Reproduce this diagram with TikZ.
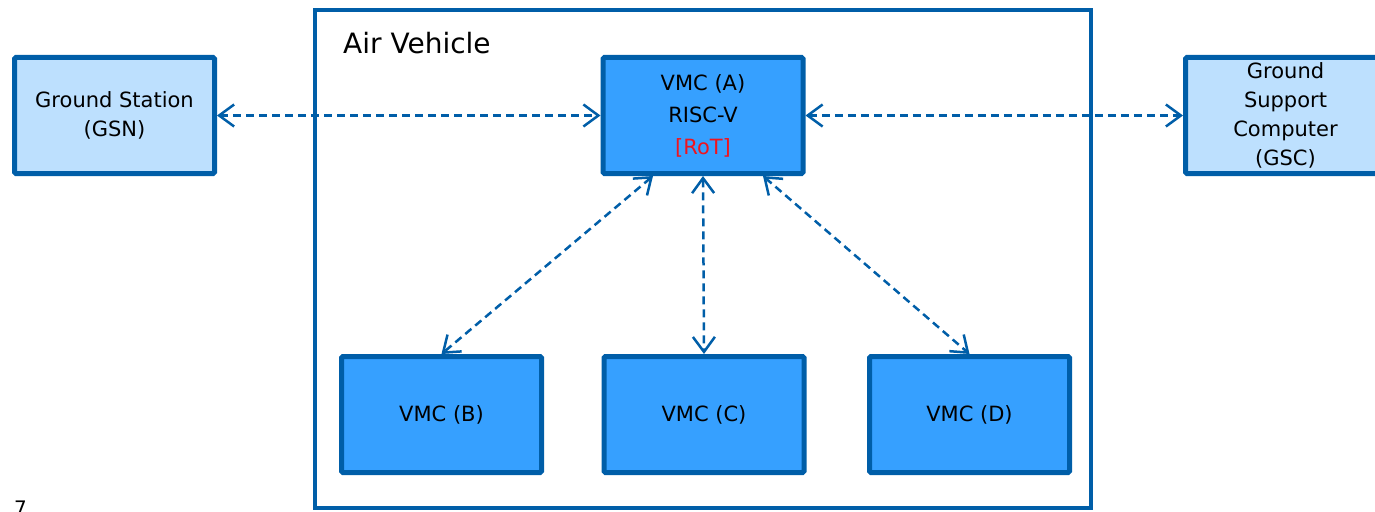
\documentclass[tikz,border=0pt]{standalone}
\usepackage{fontspec}
\setmainfont{DejaVu Sans}
\usetikzlibrary{arrows.meta}

\definecolor{avline}{RGB}{0,94,168}
\definecolor{gndfill}{RGB}{189,224,254}
\definecolor{vmcfill}{RGB}{54,160,255}
\definecolor{rotred}{RGB}{240,20,30}

\tikzset{
  gndbox/.style={draw=avline, line width=5pt, fill=gndfill, rounded corners=1.5pt,
    minimum width=200pt, minimum height=116pt, align=center,
    font=\fontsize{21}{29}\selectfont},
  vmcbox/.style={gndbox, fill=vmcfill},
  link/.style={draw=avline, line width=2.5pt, dash pattern={on 8pt off 5pt},
    {Straight Barb[length=15pt,width=22pt,line width=2.5pt]}-{Straight Barb[length=15pt,width=22pt,line width=2.5pt]}}
}

\begin{document}
\begin{tikzpicture}[x=1pt,y=1pt,yscale=-1,xscale=1]
    \useasboundingbox (0,0) rectangle (1375,511);

    %Shape: Rectangle [air vehicle]
    \draw [draw=avline, line width=4pt] (315,10) rectangle (1091,508);
    % Text Node
    \node [anchor=west, inner sep=0pt, font=\fontsize{28}{32}\selectfont] (avtitle) at (343,43) {Air Vehicle};

    %Shape: Boxes
    \node [gndbox] (gsn) at (114.5,115.5) {Ground Station\\(GSN)};
    \node [gndbox] (gsc) at (1285.5,115.5) {Ground\\Support\\Computer\\(GSC)};
    \node [vmcbox, font=\fontsize{21}{32}\selectfont] (vmca) at (703,115.5) {VMC (A)\\RISC-V\\\textcolor{rotred}{[RoT]}};
    \node [vmcbox] (vmcb) at (441.5,414.5) {VMC (B)};
    \node [vmcbox] (vmcc) at (704,414.5) {VMC (C)};
    \node [vmcbox] (vmcd) at (969.5,414.5) {VMC (D)};

    %Dashed links
    \draw [link] (gsn.east) -- (vmca.west);
    \draw [link] (vmca.east) -- (gsc.west);
    \draw [link] ([xshift=-50pt]vmca.south) -- (vmcb.north);
    \draw [link] (vmca.south) -- (vmcc.north);
    \draw [link] ([xshift=60pt]vmca.south) -- (vmcd.north);

    % Text Node (slide number, cut at the lower edge)
    \node [anchor=north west, inner sep=0pt, font=\fontsize{20}{24}\selectfont] (pageno) at (14,501) {7};
\end{tikzpicture}
\end{document}
